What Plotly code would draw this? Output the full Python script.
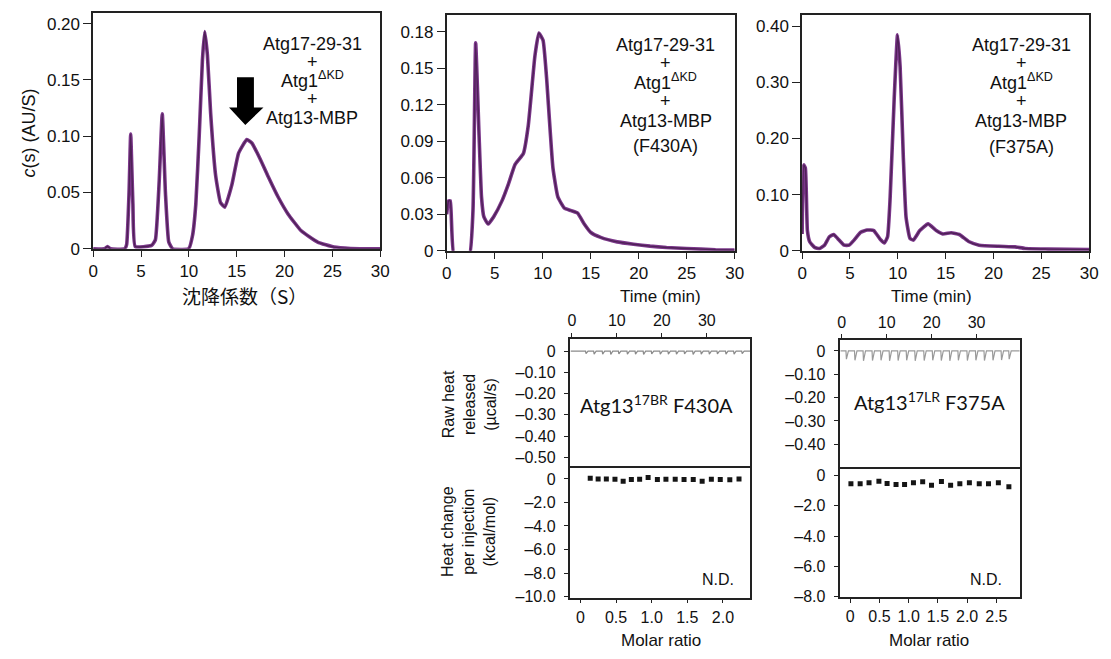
import plotly.graph_objects as go

W, H = 1111, 659


def px(x):
    return x / W


def py(y):
    return 1 - y / H


# ---------------- data ----------------
# Panel A: sedimentation coefficient distribution (wild type)
s1 = [0, 1.2, 1.5, 1.8, 3.3, 3.5, 3.75, 3.92, 4.15, 4.4, 6.1, 6.5, 6.9, 7.22, 7.55, 7.9, 8.3,
      9.98, 10.39, 10.73, 11.08, 11.42, 11.66, 11.94, 12.28, 12.8, 13.31, 13.76, 14.5, 15.2,
      16.06, 16.58, 17.44, 18.3, 19.33, 20.36, 21.74, 23.46, 25.18, 26.9, 30]
c1 = [0, 0, 0.002, 0, 0, 0.004, 0.05, 0.102, 0.04, 0.002, 0.003, 0.008, 0.06, 0.12, 0.05, 0.006, 0,
      0, 0.012, 0.04, 0.1, 0.168, 0.193, 0.172, 0.12, 0.065, 0.041, 0.037, 0.057, 0.085,
      0.097, 0.094, 0.080, 0.064, 0.046, 0.031, 0.016, 0.006, 0.0015, 0.0003, 0]

# Panel B: F430A
s2 = [0, 0.2, 0.38, 0.79, 2.33, 2.74, 3.02, 3.36, 3.63, 3.87, 4.32, 4.9, 5.76, 6.44, 7.13,
      7.99, 8.5, 9.19, 9.6, 10.04, 10.39, 11.07, 11.59, 12.27, 12.96, 13.64, 14.33, 15.02,
      16.04, 17.76, 19.47, 21.19, 22.9, 24.96, 28, 30]
c2 = [0.03, 0.041, 0.041, -0.005, -0.005, 0.033, 0.171, 0.098, 0.044, 0.028, 0.022, 0.028,
      0.041, 0.055, 0.071, 0.080, 0.103, 0.160, 0.179, 0.173, 0.144, 0.068, 0.044, 0.035,
      0.033, 0.031, 0.022, 0.015, 0.011, 0.0073, 0.0054, 0.0038, 0.0027, 0.0019, 0.0008, 0.0005]

# Panel C: F375A
s3 = [0, 0.17, 0.34, 0.55, 0.79, 1.3, 1.82, 2.34, 2.85, 3.3, 3.71, 4.4, 4.91, 5.43, 6.12,
      6.8, 7.49, 8.18, 8.6, 8.93, 9.2, 9.62, 9.97, 10.24, 10.58, 10.86, 11.27, 11.62, 12.3,
      13.16, 14.02, 14.7, 15.57, 16.43, 17.46, 18.5, 20.55, 22.27, 23.3, 25.7, 30]
c3 = [0.03, 0.153, 0.147, 0.036, 0.016, 0.006, 0.004, 0.010, 0.025, 0.029, 0.022, 0.010,
      0.010, 0.019, 0.033, 0.037, 0.036, 0.020, 0.014, 0.025, 0.095, 0.27, 0.385, 0.328,
      0.165, 0.060, 0.022, 0.019, 0.036, 0.048, 0.036, 0.030, 0.032, 0.029, 0.016, 0.010,
      0.008, 0.007, 0.004, 0.003, 0.002]

# ITC raw heat: injection times (min) and spike depths (ucal/s)
inj_t_mid = [3.1, 4.9, 6.8, 8.6, 10.4, 12.3, 14.1, 15.9, 17.7, 19.6, 21.4, 23.2, 25.0, 26.9,
             28.7, 30.5, 32.3, 34.2, 36.0, 37.8]
inj_d_mid = [-0.012, -0.015, -0.014, -0.016, -0.013, -0.015, -0.014, -0.016, -0.013, -0.015,
             -0.014, -0.015, -0.013, -0.016, -0.014, -0.015, -0.013, -0.014, -0.015, -0.012]
inj_t_r = [1.0, 2.9, 4.8, 6.8, 8.7, 10.6, 12.5, 14.4, 16.3, 18.3, 20.2, 22.1, 24.0, 25.9,
           27.9, 29.8, 31.7, 33.6, 35.5, 37.2]
inj_d_r = [-0.035, -0.040, -0.042, -0.041, -0.040, -0.042, -0.041, -0.040, -0.042, -0.041,
           -0.040, -0.041, -0.042, -0.040, -0.041, -0.040, -0.041, -0.040, -0.039, -0.035]

# ITC integrated heats
mr_mid = [0.138, 0.249, 0.364, 0.485, 0.600, 0.715, 0.831, 0.95, 1.08, 1.2, 1.33, 1.454,
          1.583, 1.708, 1.837, 1.962, 2.096, 2.225]
dh_mid = [0.06, 0.0, 0.0, -0.03, -0.2, -0.06, -0.03, 0.11, -0.06, -0.03, -0.03, -0.06,
          -0.06, -0.2, -0.03, -0.06, -0.08, 0.0]
mr_r = [0.011, 0.169, 0.321, 0.49, 0.63, 0.783, 0.929, 1.081, 1.239, 1.39, 1.56, 1.717,
        1.875, 2.038, 2.207, 2.365, 2.534, 2.714]
dh_r = [-0.54, -0.54, -0.47, -0.37, -0.52, -0.58, -0.58, -0.47, -0.41, -0.63, -0.39, -0.63,
        -0.54, -0.47, -0.54, -0.54, -0.47, -0.73]


def raw_trace(times, depths, t_end):
    xs, ys = [-0.3], [0.0]
    for t, d in zip(times, depths):
        xs += [t - 0.05, t + 0.05, t + 0.5]
        ys += [0.0, d, 0.0]
    xs.append(t_end)
    ys.append(0.0)
    return xs, ys


PURPLE = "#7b378a"
CORE = "#4f2157"
FONT = "Liberation Sans, Arial, sans-serif"

fig = go.Figure()


def add_curve(x, y, xa, ya):
    for col, w in [(PURPLE, 3.6), (CORE, 1.4)]:
        fig.add_trace(go.Scatter(x=x, y=y, mode="lines", xaxis=xa, yaxis=ya,
                                 line=dict(color=col, width=w, shape="spline", smoothing=0.4),
                                 showlegend=False, hoverinfo="skip"))


add_curve(s1, c1, "x", "y")
add_curve(s2, c2, "x2", "y2")
add_curve(s3, c3, "x3", "y3")

rx, ry = raw_trace(inj_t_mid, inj_d_mid, 39.7)
fig.add_trace(go.Scatter(x=rx, y=ry, mode="lines", xaxis="x4", yaxis="y4",
                         line=dict(color="#8a8a8a", width=1.2), showlegend=False))
rx2, ry2 = raw_trace(inj_t_r, inj_d_r, 39.6)
fig.add_trace(go.Scatter(x=rx2, y=ry2, mode="lines", xaxis="x6", yaxis="y6",
                         line=dict(color="#9a9a9a", width=1.2), showlegend=False))

fig.add_trace(go.Scatter(x=mr_mid, y=dh_mid, mode="markers", xaxis="x5", yaxis="y5",
                         marker=dict(symbol="square", size=5, color="#151515"), showlegend=False))
fig.add_trace(go.Scatter(x=mr_r, y=dh_r, mode="markers", xaxis="x7", yaxis="y7",
                         marker=dict(symbol="square", size=5, color="#151515"), showlegend=False))

base = dict(showline=True, linecolor="#222", linewidth=1.5, mirror=True, ticks="outside",
            ticklen=6, tickwidth=1.3, tickcolor="#222", showgrid=False, zeroline=False,
            tickfont=dict(family=FONT, size=17, color="#111"))
basey = dict(base, ticklen=8)
itc = dict(base, tickfont=dict(family=FONT, size=16, color="#111"), ticklen=4)
itcy = dict(itc, ticklen=5, ticklabelstandoff=5)
itc_top = dict(itc, mirror=False)

x030 = dict(range=[0, 30], tickvals=[0, 5, 10, 15, 20, 25, 30])

fig.update_layout(
    width=W, height=H, margin=dict(l=0, r=0, t=0, b=0),
    paper_bgcolor="white", plot_bgcolor="white",
    xaxis=dict(base, **x030, domain=[px(89.3), px(380)], anchor="y"),
    yaxis=dict(basey, range=[0, 0.2096], domain=[py(252), py(12)], anchor="x",
               tickvals=[0, 0.05, 0.10, 0.15, 0.20], ticktext=["0", "0.05", "0.10", "0.15", "0.20"]),
    xaxis2=dict(base, **x030, domain=[px(447.3), px(739)], anchor="y2"),
    yaxis2=dict(basey, range=[0, 0.194], domain=[py(254), py(14)], anchor="x2",
                tickvals=[0, 0.03, 0.06, 0.09, 0.12, 0.15, 0.18],
                ticktext=["0", "0.03", "0.06", "0.09", "0.12", "0.15", "0.18"]),
    xaxis3=dict(base, **x030, domain=[px(807.3), px(1098)], anchor="y3"),
    yaxis3=dict(basey, range=[0, 0.4205], domain=[py(254), py(14)], anchor="x3",
                tickvals=[0, 0.1, 0.2, 0.3, 0.4], ticktext=["0", "0.10", "0.20", "0.30", "0.40"]),
    # ITC middle
    xaxis4=dict(itc_top, range=[-0.3, 39.7], side="top", domain=[px(572.7), px(755)], anchor="y4",
                tickvals=[0, 10, 20, 30]),
    yaxis4=dict(itcy, range=[-0.551, 0.059], domain=[py(475), py(343.3)], anchor="x4",
                tickvals=[0, -0.1, -0.2, -0.3, -0.4, -0.5],
                ticktext=["0", "–0.10", "–0.20", "–0.30", "–0.40", "–0.50"]),
    xaxis5=dict(itc, range=[-0.139, 2.386], domain=[px(572.7), px(755)], anchor="y5",
                tickvals=[0, 0.5, 1.0, 1.5, 2.0], ticktext=["0", "0.5", "1.0", "1.5", "2.0"]),
    yaxis5=dict(itcy, range=[-10.08, 0.92], domain=[py(606.7), py(475)], anchor="x5",
                tickvals=[0, -2, -4, -6, -8, -10],
                ticktext=["0", "–2.0", "–4.0", "–6.0", "–8.0", "–10.0"]),
    # ITC right
    xaxis6=dict(itc_top, range=[-0.3, 39.6], side="top", domain=[px(846), px(1027.7)], anchor="y6",
                tickvals=[0, 10, 20, 30]),
    yaxis6=dict(itcy, range=[-0.505, 0.046], domain=[py(475.7), py(345)], anchor="x6",
                tickvals=[0, -0.1, -0.2, -0.3, -0.4],
                ticktext=["0", "–0.10", "–0.20", "–0.30", "–0.40"]),
    xaxis7=dict(itc, range=[-0.17, 2.90], domain=[px(846), px(1027.7)], anchor="y7",
                tickvals=[0, 0.5, 1.0, 1.5, 2.0, 2.5],
                ticktext=["0", "0.5", "1.0", "1.5", "2.0", "2.5"]),
    yaxis7=dict(itcy, range=[-8.02, 0.455], domain=[py(606), py(475.7)], anchor="x7",
                tickvals=[0, -2, -4, -6, -8],
                ticktext=["0", "–2.0", "–4.0", "–6.0", "–8.0"]),
)

# downward arrow in panel A
fig.add_shape(type="path", xref="x", yref="y",
              path="M 15.03,0.1524 L 16.8,0.1524 L 16.8,0.1255 L 17.8,0.1255 L 15.9,0.110 "
                   "L 14.2,0.1255 L 15.03,0.1255 Z",
              fillcolor="black", line=dict(color="black", width=0))

ann = []


def text(x, y, t, size=18, family=FONT, angle=0, xanchor="center", yanchor="middle"):
    ann.append(dict(x=px(x), y=py(y), xref="paper", yref="paper", text=t, showarrow=False,
                    font=dict(family=family, size=size, color="#111"), textangle=angle,
                    xanchor=xanchor, yanchor=yanchor))


# complex labels
labels_A = [("Atg17-29-31", 44), ("+", 62), ("Atg1<sup>ΔKD</sup>", 80), ("+", 100), ("Atg13-MBP", 119)]
for t, y in labels_A:
    text(311, y, t)
labels_B = [("Atg17-29-31", 45), ("+", 63), ("Atg1<sup>ΔKD</sup>", 82), ("+", 102),
            ("Atg13-MBP", 122.5), ("(F430A)", 147)]
for t, y in labels_B:
    text(669, y, t)
labels_C = [("Atg17-29-31", 45), ("+", 63), ("Atg1<sup>ΔKD</sup>", 82), ("+", 102),
            ("Atg13-MBP", 122), ("(F375A)", 148)]
for t, y in labels_C:
    text(1029, y, t)

# axis titles
text(24, 134, "<i>c</i>(s) (AU/S)", size=18, angle=-90)
text(243, 299, "沈降係数（S）", size=19, family="Noto Sans CJK JP")
text(664, 301, "Time (min)", size=17)
text(938, 301, "Time (min)", size=17)
text(664, 650, "Molar ratio", size=17)
text(936, 650, "Molar ratio", size=17)
text(470, 410, "Raw heat<br>released<br>(µcal/s)", size=16, angle=-90)
text(470, 540, "Heat change<br>per injection<br>(kcal/mol)", size=16, angle=-90)

# ITC annotations
text(660, 410, "Atg13<sup>17BR</sup> F430A", size=20, family="Lato, Carlito, sans-serif")
text(936, 407, "Atg13<sup>17LR</sup> F375A", size=20, family="Lato, Carlito, sans-serif")
text(722, 588, "N.D.", size=16)
text(994, 588, "N.D.", size=16)

fig.update_layout(annotations=ann)
fig.write_html(
    "out.html", default_width="1111px", default_height="659px",
    config={"displayModeBar": False},
    post_script=("document.documentElement.style.margin='0px';"
                 "document.documentElement.style.overflow='hidden';"
                 "document.body.style.margin='0px';document.body.style.padding='0px';"
                 "document.body.style.overflow='hidden';"))
